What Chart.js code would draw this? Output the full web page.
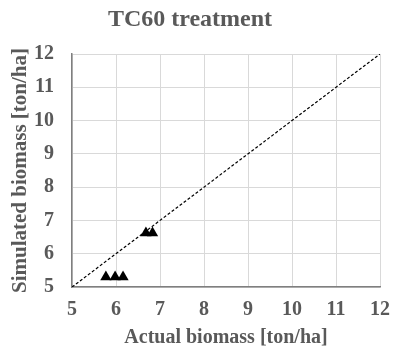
<!doctype html>
<html lang="en">
<head>
  <meta charset="UTF-8">
  <title>TC60 treatment</title>
  <script src="https://cdn.jsdelivr.net/npm/chart.js"></script>
  <style>
    html, body { margin: 0; padding: 0; background: #fff; }
    #wrap { width: 393px; height: 348px; }
  </style>
</head>
<body>
<div id="wrap"><canvas id="chart" width="393" height="348"></canvas></div>
<script>
  // measured vs simulated biomass [ton/ha]
  const actual = [5.77, 5.98, 6.16, 6.68, 6.83];
  const simulated = [5.3, 5.3, 5.3, 6.62, 6.62];
  // 1:1 reference line
  const oneToOne = [5, 12];

  const grey = '#595959';
  const font = 'Liberation Serif, Times New Roman, serif';

  const ctx = document.getElementById('chart').getContext('2d');
  new Chart(ctx, {
    type: 'scatter',
    data: {
      datasets: [
        {
          label: 'TC60',
          data: actual.map((x, i) => ({ x: x, y: simulated[i] })),
          pointStyle: 'triangle',
          pointRadius: 6.5,
          backgroundColor: '#000',
          borderColor: '#000',
          borderWidth: 0
        },
        {
          label: '1:1',
          data: oneToOne.map(v => ({ x: v, y: v })),
          showLine: true,
          borderColor: '#000',
          borderWidth: 1.2,
          borderDash: [3, 2],
          pointRadius: 0
        }
      ]
    },
    options: {
      responsive: false,
      animation: false,
      layout: { padding: { left: 0, right: 13, top: 0, bottom: 0 } },
      plugins: {
        legend: { display: false },
        tooltip: { enabled: false },
        title: {
          display: true,
          text: 'TC60 treatment',
          color: grey,
          font: { family: font, size: 24, weight: 'bold', lineHeight: 1.2 },
          padding: { top: 5, bottom: 20.2 }
        }
      },
      scales: {
        x: {
          type: 'linear',
          min: 5, max: 12,
          afterFit: s => { s.height = 61; s.paddingLeft = 0; s.paddingRight = 0; },
          ticks: { stepSize: 1, color: grey, padding: 11, font: { family: font, size: 20, weight: 'bold' } },
          grid: { color: '#d9d9d9', drawTicks: false },
          border: { color: '#7f7f7f', width: 1.5 },
          title: {
            display: true,
            text: 'Actual biomass [ton/ha]',
            color: grey,
            font: { family: font, size: 20, weight: 'bold', lineHeight: 1 },
            padding: 0
          }
        },
        y: {
          type: 'linear',
          min: 5, max: 12,
          afterFit: s => { s.width = 72; s.paddingTop = 0; s.paddingBottom = 0; },
          ticks: { stepSize: 1, color: grey, padding: 18, font: { family: font, size: 20, weight: 'bold' } },
          grid: { color: '#d9d9d9', drawTicks: false },
          border: { color: '#7f7f7f', width: 1.5 },
          title: {
            display: true,
            text: 'Simulated biomass [ton/ha]',
            color: grey,
            font: { family: font, size: 21, weight: 'bold', lineHeight: 1.2 },
            padding: { top: 8, bottom: 0 }
          }
        }
      }
    }
  });
</script>
</body>
</html>
